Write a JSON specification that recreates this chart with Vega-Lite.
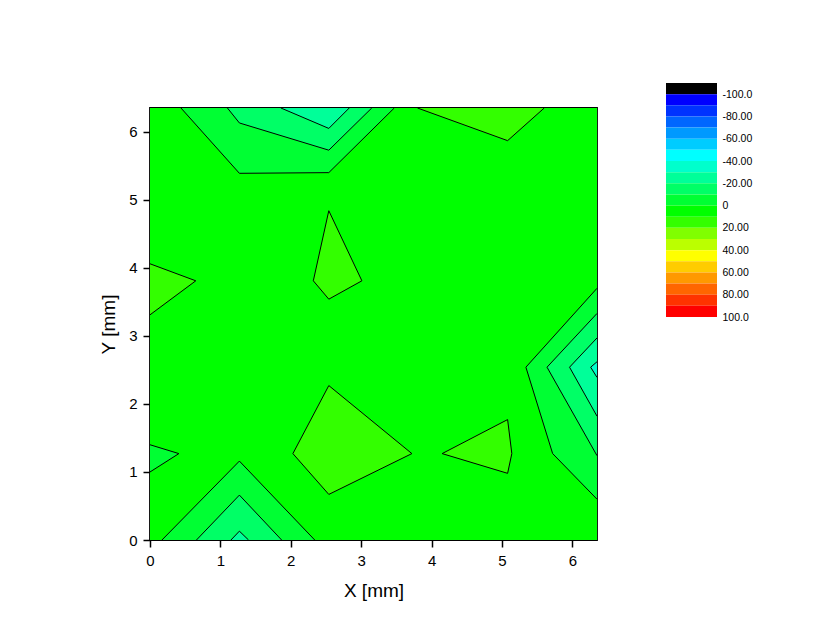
{
  "$schema": "https://vega.github.io/schema/vega-lite/v6.json",
  "background": "white",
  "padding": {"left": 98, "top": 83, "right": 5, "bottom": 5},
  "config": {
    "font": "Liberation Sans",
    "axis": {"labelColor": "black", "titleColor": "black", "tickColor": "black", "tickWidth": 1.5, "titleFontWeight": "normal", "grid": false, "domain": false, "labelFlush": false, "labelOverlap": false, "labelBound": false}
  },
  "datasets": {
    "bg": [{"x0": 0, "x1": 6.35, "y0": 0, "y1": 6.35, "lo": 0}],
    "polys": [
      {"poly": "A", "lo": -10, "depth": 1, "i": 0, "x": 0.44, "y": 6.35},
      {"poly": "A", "lo": -10, "depth": 1, "i": 1, "x": 1.27, "y": 5.39},
      {"poly": "A", "lo": -10, "depth": 1, "i": 2, "x": 2.54, "y": 5.40},
      {"poly": "A", "lo": -10, "depth": 1, "i": 3, "x": 3.47, "y": 6.35},
      {"poly": "B", "lo": -20, "depth": 2, "i": 0, "x": 1.10, "y": 6.35},
      {"poly": "B", "lo": -20, "depth": 2, "i": 1, "x": 1.27, "y": 6.13},
      {"poly": "B", "lo": -20, "depth": 2, "i": 2, "x": 2.54, "y": 5.73},
      {"poly": "B", "lo": -20, "depth": 2, "i": 3, "x": 3.15, "y": 6.35},
      {"poly": "C", "lo": -30, "depth": 3, "i": 0, "x": 1.86, "y": 6.35},
      {"poly": "C", "lo": -30, "depth": 3, "i": 1, "x": 2.54, "y": 6.05},
      {"poly": "C", "lo": -30, "depth": 3, "i": 2, "x": 2.83, "y": 6.35},
      {"poly": "D", "lo": 10, "depth": 1, "i": 0, "x": 3.80, "y": 6.35},
      {"poly": "D", "lo": 10, "depth": 1, "i": 1, "x": 5.08, "y": 5.87},
      {"poly": "D", "lo": 10, "depth": 1, "i": 2, "x": 5.60, "y": 6.35},
      {"poly": "E", "lo": 10, "depth": 1, "i": 0, "x": 2.54, "y": 4.84},
      {"poly": "E", "lo": 10, "depth": 1, "i": 1, "x": 3.01, "y": 3.81},
      {"poly": "E", "lo": 10, "depth": 1, "i": 2, "x": 2.54, "y": 3.54},
      {"poly": "E", "lo": 10, "depth": 1, "i": 3, "x": 2.32, "y": 3.81},
      {"poly": "E", "lo": 10, "depth": 1, "i": 4, "x": 2.54, "y": 4.84},
      {"poly": "F", "lo": 10, "depth": 1, "i": 0, "x": 0, "y": 4.06},
      {"poly": "F", "lo": 10, "depth": 1, "i": 1, "x": 0.65, "y": 3.81},
      {"poly": "F", "lo": 10, "depth": 1, "i": 2, "x": 0, "y": 3.31},
      {"poly": "G", "lo": 10, "depth": 1, "i": 0, "x": 2.54, "y": 2.27},
      {"poly": "G", "lo": 10, "depth": 1, "i": 1, "x": 3.72, "y": 1.27},
      {"poly": "G", "lo": 10, "depth": 1, "i": 2, "x": 2.54, "y": 0.67},
      {"poly": "G", "lo": 10, "depth": 1, "i": 3, "x": 2.03, "y": 1.27},
      {"poly": "G", "lo": 10, "depth": 1, "i": 4, "x": 2.54, "y": 2.27},
      {"poly": "H", "lo": 10, "depth": 1, "i": 0, "x": 4.15, "y": 1.27},
      {"poly": "H", "lo": 10, "depth": 1, "i": 1, "x": 5.08, "y": 1.77},
      {"poly": "H", "lo": 10, "depth": 1, "i": 2, "x": 5.14, "y": 1.27},
      {"poly": "H", "lo": 10, "depth": 1, "i": 3, "x": 5.08, "y": 0.98},
      {"poly": "H", "lo": 10, "depth": 1, "i": 4, "x": 4.15, "y": 1.27},
      {"poly": "I", "lo": -10, "depth": 1, "i": 0, "x": 0, "y": 1.40},
      {"poly": "I", "lo": -10, "depth": 1, "i": 1, "x": 0.41, "y": 1.27},
      {"poly": "I", "lo": -10, "depth": 1, "i": 2, "x": 0, "y": 1.00},
      {"poly": "J", "lo": -10, "depth": 1, "i": 0, "x": 0.17, "y": 0},
      {"poly": "J", "lo": -10, "depth": 1, "i": 1, "x": 1.27, "y": 1.16},
      {"poly": "J", "lo": -10, "depth": 1, "i": 2, "x": 2.34, "y": 0},
      {"poly": "K", "lo": -20, "depth": 2, "i": 0, "x": 0.66, "y": 0},
      {"poly": "K", "lo": -20, "depth": 2, "i": 1, "x": 1.27, "y": 0.66},
      {"poly": "K", "lo": -20, "depth": 2, "i": 2, "x": 1.87, "y": 0},
      {"poly": "L", "lo": -30, "depth": 3, "i": 0, "x": 1.15, "y": 0},
      {"poly": "L", "lo": -30, "depth": 3, "i": 1, "x": 1.27, "y": 0.13},
      {"poly": "L", "lo": -30, "depth": 3, "i": 2, "x": 1.40, "y": 0},
      {"poly": "M", "lo": -10, "depth": 1, "i": 0, "x": 6.35, "y": 3.70},
      {"poly": "M", "lo": -10, "depth": 1, "i": 1, "x": 5.34, "y": 2.54},
      {"poly": "M", "lo": -10, "depth": 1, "i": 2, "x": 5.72, "y": 1.27},
      {"poly": "M", "lo": -10, "depth": 1, "i": 3, "x": 6.35, "y": 0.60},
      {"poly": "N", "lo": -20, "depth": 2, "i": 0, "x": 6.35, "y": 3.33},
      {"poly": "N", "lo": -20, "depth": 2, "i": 1, "x": 5.64, "y": 2.54},
      {"poly": "N", "lo": -20, "depth": 2, "i": 2, "x": 6.35, "y": 1.24},
      {"poly": "O", "lo": -30, "depth": 3, "i": 0, "x": 6.35, "y": 2.97},
      {"poly": "O", "lo": -30, "depth": 3, "i": 1, "x": 5.96, "y": 2.54},
      {"poly": "O", "lo": -30, "depth": 3, "i": 2, "x": 6.35, "y": 1.82},
      {"poly": "P", "lo": -40, "depth": 4, "i": 0, "x": 6.35, "y": 2.62},
      {"poly": "P", "lo": -40, "depth": 4, "i": 1, "x": 6.26, "y": 2.54},
      {"poly": "P", "lo": -40, "depth": 4, "i": 2, "x": 6.35, "y": 2.39}
    ],
    "legend": [
      {"lo": -110, "hi": -100}, {"lo": -100, "hi": -90}, {"lo": -90, "hi": -80}, {"lo": -80, "hi": -70},
      {"lo": -70, "hi": -60}, {"lo": -60, "hi": -50}, {"lo": -50, "hi": -40}, {"lo": -40, "hi": -30},
      {"lo": -30, "hi": -20}, {"lo": -20, "hi": -10}, {"lo": -10, "hi": 0}, {"lo": 0, "hi": 10},
      {"lo": 10, "hi": 20}, {"lo": 20, "hi": 30}, {"lo": 30, "hi": 40}, {"lo": 40, "hi": 50},
      {"lo": 50, "hi": 60}, {"lo": 60, "hi": 70}, {"lo": 70, "hi": 80}, {"lo": 80, "hi": 90},
      {"lo": 90, "hi": 100}
    ]
  },
  "spacing": 66,
  "hconcat": [
    {
      "spacing": 0,
      "vconcat": [
        {
          "width": 447,
          "height": 22,
          "view": {"stroke": null},
          "data": {"name": "bg"},
          "mark": {"type": "text", "text": ""},
          "encoding": {}
        },
        {
          "width": 447,
          "height": 432,
          "view": {"stroke": "black", "strokeWidth": 1.8},
          "encoding": {
            "fill": {"field": "lo", "type": "quantitative", "legend": null,
              "scale": {"type": "threshold", "domain": [-100, -90, -80, -70, -60, -50, -40, -30, -20, -10, 0, 10, 20, 30, 40, 50, 60, 70, 80, 90],
                "range": ["#000000", "#0000ff", "#0033ff", "#0066ff", "#0099ff", "#00ccff", "#00ffff", "#00ffcc", "#00ff99", "#00ff66", "#00ff33", "#00ff00", "#33ff00", "#80ff00", "#bbff00", "#ffff00", "#ffcc00", "#ff9900", "#ff6600", "#ff3300", "#ff0000"]}}
          },
          "layer": [
            {
              "data": {"name": "bg"},
              "mark": {"type": "rect"},
              "encoding": {
                "x": {"field": "x0", "type": "quantitative",
                  "scale": {"domain": [0, 6.35], "nice": false, "zero": false},
                  "axis": {"title": "X [mm]", "values": [0, 0.5, 1, 1.5, 2, 2.5, 3, 3.5, 4, 4.5, 5, 5.5, 6],
                    "labelExpr": "datum.value % 1 === 0 ? '' + datum.value : ''",
                    "tickSize": {"condition": {"test": "datum.value % 1 === 0", "value": 7}, "value": 4},
                    "labelFontSize": 15, "titleFontSize": 19, "labelPadding": 6, "titlePadding": 13}},
                "x2": {"field": "x1"},
                "y": {"field": "y0", "type": "quantitative",
                  "scale": {"domain": [0, 6.35], "nice": false, "zero": false},
                  "axis": {"title": "Y [mm]", "values": [0, 0.5, 1, 1.5, 2, 2.5, 3, 3.5, 4, 4.5, 5, 5.5, 6],
                    "labelExpr": "datum.value % 1 === 0 ? '' + datum.value : ''",
                    "tickSize": {"condition": {"test": "datum.value % 1 === 0", "value": 7}, "value": 4},
                    "labelFontSize": 15, "titleFontSize": 19, "labelPadding": 6, "titlePadding": 10}},
                "y2": {"field": "y1"}
              }
            },
            {
              "data": {"name": "polys"},
              "transform": [{"filter": "datum.depth === 1"}],
              "mark": {"type": "line", "stroke": "black", "strokeWidth": 1},
              "encoding": {
                "x": {"field": "x", "type": "quantitative"},
                "y": {"field": "y", "type": "quantitative"},
                "detail": {"field": "poly", "type": "nominal"},
                "order": {"field": "i", "type": "quantitative"}
              }
            },
            {
              "data": {"name": "polys"},
              "transform": [{"filter": "datum.depth === 2"}],
              "mark": {"type": "line", "stroke": "black", "strokeWidth": 1},
              "encoding": {
                "x": {"field": "x", "type": "quantitative"},
                "y": {"field": "y", "type": "quantitative"},
                "detail": {"field": "poly", "type": "nominal"},
                "order": {"field": "i", "type": "quantitative"}
              }
            },
            {
              "data": {"name": "polys"},
              "transform": [{"filter": "datum.depth === 3"}],
              "mark": {"type": "line", "stroke": "black", "strokeWidth": 1},
              "encoding": {
                "x": {"field": "x", "type": "quantitative"},
                "y": {"field": "y", "type": "quantitative"},
                "detail": {"field": "poly", "type": "nominal"},
                "order": {"field": "i", "type": "quantitative"}
              }
            },
            {
              "data": {"name": "polys"},
              "transform": [{"filter": "datum.depth === 4"}],
              "mark": {"type": "line", "stroke": "black", "strokeWidth": 1},
              "encoding": {
                "x": {"field": "x", "type": "quantitative"},
                "y": {"field": "y", "type": "quantitative"},
                "detail": {"field": "poly", "type": "nominal"},
                "order": {"field": "i", "type": "quantitative"}
              }
            }
          ]
        }
      ]
    },
    {
      "width": 51,
      "height": 234,
      "view": {"stroke": null},
      "data": {"name": "legend"},
      "mark": {"type": "rect"},
      "encoding": {
        "y": {"field": "lo", "type": "quantitative",
          "scale": {"domain": [-110, 100], "reverse": true, "nice": false, "zero": false},
          "axis": {"orient": "right", "title": null, "ticks": false, "labelFontSize": 10.5, "labelPadding": 5,
            "values": [-100, -80, -60, -40, -20, 0, 20, 40, 60, 80, 100],
            "labelExpr": "datum.value === 0 ? '0' : ((datum.value < 0 ? '-' : '') + (abs(datum.value) === 100 ? '100.0' : abs(datum.value) + '.00'))"}},
        "y2": {"field": "hi"},
        "fill": {"field": "lo", "type": "quantitative", "legend": null,
          "scale": {"type": "threshold", "domain": [-100, -90, -80, -70, -60, -50, -40, -30, -20, -10, 0, 10, 20, 30, 40, 50, 60, 70, 80, 90],
            "range": ["#000000", "#0000ff", "#0033ff", "#0066ff", "#0099ff", "#00ccff", "#00ffff", "#00ffcc", "#00ff99", "#00ff66", "#00ff33", "#00ff00", "#33ff00", "#80ff00", "#bbff00", "#ffff00", "#ffcc00", "#ff9900", "#ff6600", "#ff3300", "#ff0000"]}}
      }
    }
  ]
}
